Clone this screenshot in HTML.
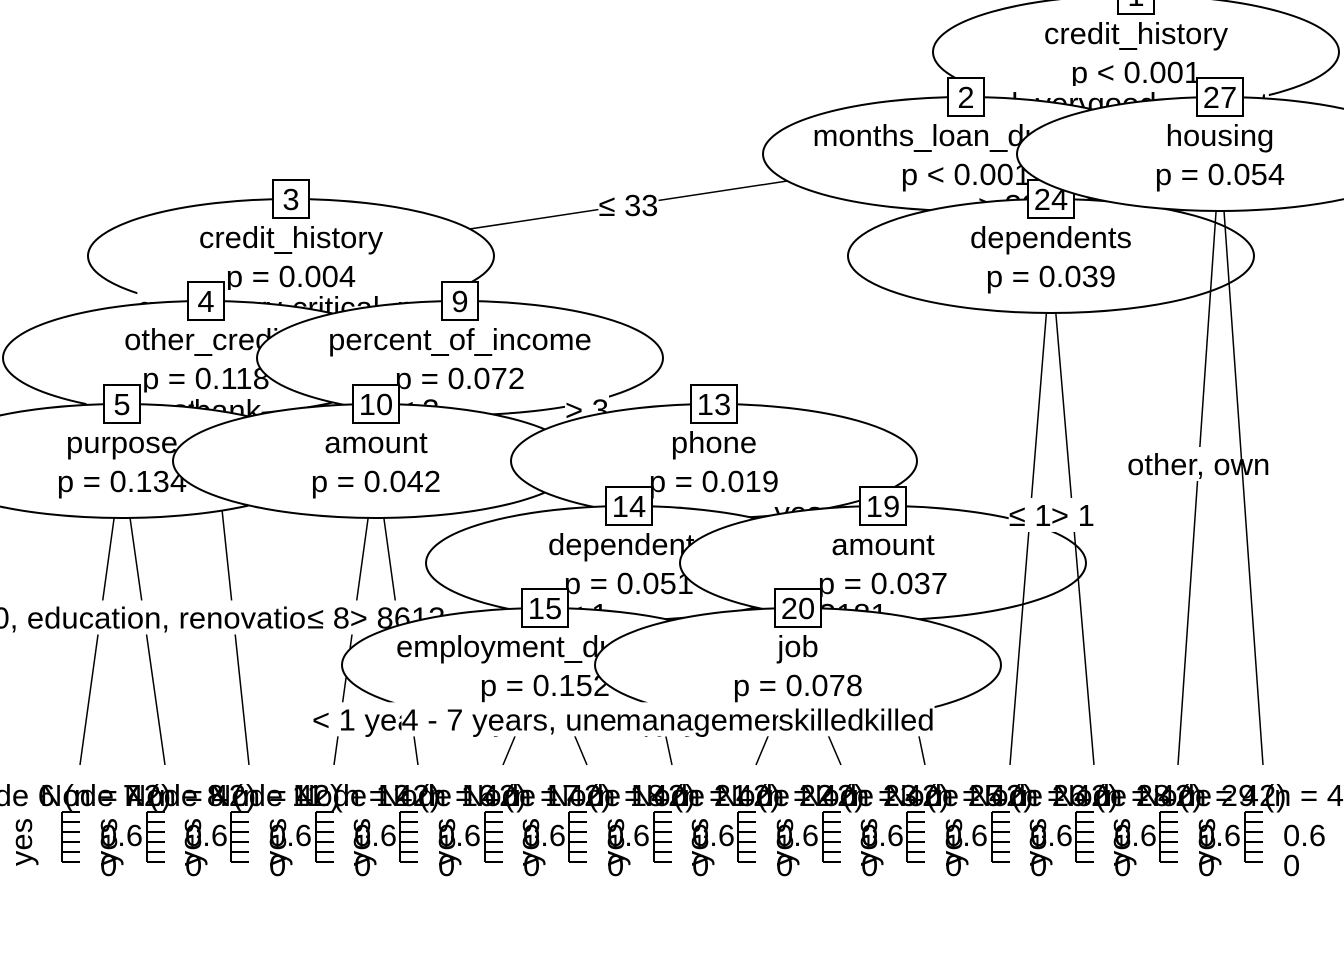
<!DOCTYPE html>
<html><head><meta charset="utf-8"><style>
html,body{margin:0;padding:0;background:#fff;}
svg{display:block;font-family:"Liberation Sans",Arial,sans-serif;}
</style></head><body>
<svg id="chart" width="1344" height="960" viewBox="0 0 1344 960" xmlns="http://www.w3.org/2000/svg"></svg>
<script>
// inner nodes: id, variable, p-value, center x, center y
const innerIds = [1,2,3,4,5,9,10,13,14,15,19,20,24,27];
const innerVars = ["credit_history","months_loan_duration","credit_history","other_credit","purpose","percent_of_income","amount","phone","dependents","employment_duration","amount","job","dependents","housing"];
const innerP = ["p < 0.001","p < 0.001","p = 0.004","p = 0.118","p = 0.134","p = 0.072","p = 0.042","p = 0.019","p = 0.051","p = 0.152","p = 0.037","p = 0.078","p = 0.039","p = 0.054"];
const innerX = [1136,966,291,206,122,460,376,714,629,545,883,798,1051,1220];
const innerY = [52,154,256,358,461,358,461,461,563,665,563,665,256,154];
// terminal nodes
const termIds = [6,7,8,11,12,16,17,18,21,22,23,25,26,28,29];
const termN = [42,42,42,42,42,42,42,42,42,42,42,42,42,42,42];
const termX = [80,165,249,334,418,503,587,672,756,841,925,1010,1094,1178,1263];
// tree structure: children and edge labels
const childrenOf = {1:[2,27],2:[3,24],3:[4,9],4:[5,8],5:[6,7],9:[10,13],10:[11,12],13:[14,19],14:[15,18],15:[16,17],19:[20,23],20:[21,22],24:[25,26],27:[28,29]};
const edgeLabels = {
 "1-2":"critical, very good","1-27":"good, perfect",
 "2-3":"\u2264 33","2-24":"> 33",
 "3-4":"good, very good","3-9":"critical, poor",
 "4-5":"none, store","4-8":"bank",
 "5-6":"business","5-7":"car0, education, renovations",
 "9-10":"\u2264 3","9-13":"> 3",
 "10-11":"\u2264 8613","10-12":"> 8613",
 "13-14":"no","13-19":"yes",
 "14-15":"\u2264 1","14-18":"> 1",
 "15-16":"< 1 year, > 7 years, 1 - 4 years","15-17":"4 - 7 years, unemployed",
 "19-20":"\u2264 3181","19-23":"> 3181",
 "20-21":"management, unskilled","20-22":"skilled",
 "24-25":"\u2264 1","24-26":"> 1",
 "27-28":"other, own","27-29":""
};
const RX=203, RY=57, FS=31, TERM_Y=765;
const svg=document.getElementById('chart');
const NS="http://www.w3.org/2000/svg";
function mk(tag,attrs,parent){const e=document.createElementNS(NS,tag);for(const k in attrs)e.setAttribute(k,attrs[k]);(parent||svg).appendChild(e);return e;}
function info(id){
  let i=innerIds.indexOf(id); if(i>=0) return {inner:true,x:innerX[i],y:innerY[i],i:i};
  i=termIds.indexOf(id); return {inner:false,x:termX[i],y:TERM_Y,i:i};
}
function boundary(cx,cy,tx,ty){const dx=tx-cx,dy=ty-cy;const t=1/Math.sqrt((dx/RX)**2+(dy/RY)**2);return [cx+dx*Math.min(t,1),cy+dy*Math.min(t,1)];}
function drawInner(id){
  const n=info(id);
  const g=mk('g',{});
  
  
  mk('ellipse',{cx:n.x,cy:n.y,rx:RX,ry:RY,fill:'#fff',stroke:'#000','stroke-width':2},g);
  const t1=mk('text',{x:n.x,y:n.y-8,'text-anchor':'middle','font-size':FS},g);t1.textContent=innerVars[n.i];
  const t2=mk('text',{x:n.x,y:n.y+31,'text-anchor':'middle','font-size':FS},g);t2.textContent=innerP[n.i];
  const w=String(id).length>1?46:36;
  mk('rect',{x:n.x-w/2,y:n.y-RY-19,width:w,height:38,fill:'#fff',stroke:'#000','stroke-width':2},g);
  const t3=mk('text',{x:n.x,y:n.y-RY+11,'text-anchor':'middle','font-size':FS},g);t3.textContent=id;
}
function drawTerminal(id){
  const n=info(id);
  const g=mk('g',{});
  
  
  const tx=n.x;
  const t=mk('text',{x:tx-125,y:806,'font-size':FS},g);t.textContent='Node '+id+' (n = '+termN[n.i]+')';
  const yt=mk('text',{x:0,y:0,'font-size':FS,transform:'translate('+(tx-48)+',842) rotate(-90)','text-anchor':'middle'},g);yt.textContent='yes';
  mk('line',{x1:tx-18,y1:812,x2:tx-18,y2:862,stroke:'#000','stroke-width':2},g);
  for(let k=0;k<6;k++) mk('line',{x1:tx-18,y1:812+k*10,x2:tx,y2:812+k*10,stroke:'#000','stroke-width':2},g);
  const a=mk('text',{x:tx+20,y:846,'font-size':FS},g);a.textContent='0.6';
  const b=mk('text',{x:tx+20,y:876,'font-size':FS},g);b.textContent='0';
}
function drawEdge(pid,cid){
  const p=info(pid),c=info(cid);
  const ty=c.inner?c.y:TERM_Y;
  const s=boundary(p.x,p.y,c.x,ty);
  const g=mk('g',{});
  
  
  mk('line',{x1:s[0],y1:s[1],x2:c.x,y2:ty,stroke:'#000','stroke-width':1.5},g);
  let mx,my;
  if(c.inner){const e=boundary(c.x,c.y,p.x,p.y);mx=(s[0]+e[0])/2;my=(s[1]+e[1])/2;}
  else if(pid===4){mx=(p.x+c.x)/2+0; my=410;}
  else{const fy=717;const fx=s[0]+(c.x-s[0])*(fy-s[1])/(ty-s[1]);mx=(s[0]+fx)/2;my=(s[1]+fy)/2;}
  const lab=edgeLabels[pid+'-'+cid];
  if(!lab) return;
  const t=mk('text',{x:mx,y:my+11,'text-anchor':'middle','font-size':FS},g);t.textContent=lab;
  const bb=t.getBBox();
  const r=mk('rect',{x:bb.x,y:my-17,width:bb.width,height:34,fill:'#fff'},g);
  g.insertBefore(r,t);
}
function draw(id){
  if(childrenOf[id]){
    drawInner(id);
    for(const c of childrenOf[id]) drawEdge(id,c);
    for(const c of childrenOf[id]) draw(c);
  } else drawTerminal(id);
}
draw(1);
</script>
</body></html>
